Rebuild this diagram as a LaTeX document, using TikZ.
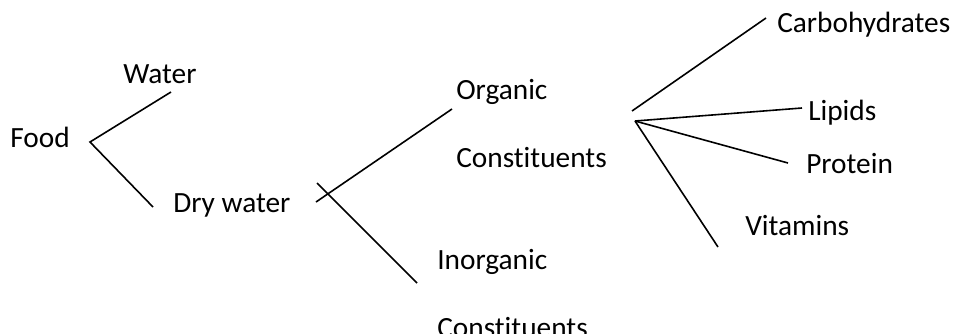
\documentclass[tikz,border=0pt]{standalone}
\usepackage{fontspec}
\setmainfont{Carlito}[Ligatures={NoCommon}]
\usetikzlibrary{calc}

\begin{document}
\begin{tikzpicture}[x=0.75pt, y=-0.75pt,
    word/.style={anchor=base west, inner sep=0pt, font=\fontsize{22}{26}\selectfont},
    branch/.style={line width=1.2pt}]
    \useasboundingbox (0,0) rectangle (953,333);

    % Draw labels
    \node[word] (food) at (10,147) {Food};
    \node[word] (water) at (123,83) {Water};
    \node[word] (dry) at (173,212) {Dry water};
    \node[word] (organic) at (456,99) {Organic};
    \node[word] (orgcon) at (456,167) {Constituents};
    \node[word] (inorganic) at (437,269) {Inorganic};
    \node[word] (inorgcon) at (437,337) {Constituents};
    \node[word] (carbo) at (777,32) {Carbohydrates};
    \node[word] (lipids) at (808,120) {Lipids};
    \node[word] (protein) at (806,173) {Protein};
    \node[word] (vitamins) at (745,235) {Vitamins};

    % Branch points and line ends
    \coordinate (fork) at (90,142);
    \coordinate (water-end) at (171,92);
    \coordinate (dry-end) at (153,207);
    \coordinate (org-start) at (316,202);
    \coordinate (org-end) at (452,109);
    \coordinate (inorg-start) at (317,183);
    \coordinate (inorg-end) at (417,283);
    \coordinate (hub-top) at (632,111);
    \coordinate (hub) at (635,121);
    \coordinate (carbo-end) at (766,18);
    \coordinate (lipids-end) at (802,108);
    \coordinate (protein-end) at (788,163);
    \coordinate (vitamins-end) at (718,247);

    % Draw branches
    \draw[branch] (water-end) -- (fork) -- (dry-end);
    \draw[branch] (org-start) -- (org-end);
    \draw[branch] (inorg-start) -- (inorg-end);
    \draw[branch] (hub-top) -- (carbo-end);
    \draw[branch] (hub) -- (lipids-end);
    \draw[branch] (hub) -- (protein-end);
    \draw[branch] (hub) -- (vitamins-end);
\end{tikzpicture}
\end{document}
